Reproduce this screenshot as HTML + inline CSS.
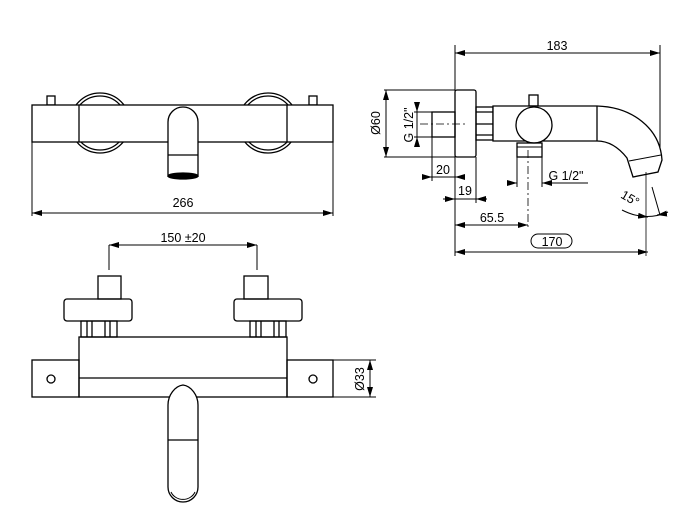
<!DOCTYPE html>
<html><head><meta charset="utf-8"><style>
html,body{margin:0;padding:0;background:#fff;}
svg{display:block;}
text{font-family:"Liberation Sans","DejaVu Sans",sans-serif;font-size:12.5px;fill:#000;}
</style></head><body>
<svg width="685" height="521" viewBox="0 0 685 521" xmlns="http://www.w3.org/2000/svg">
<defs>
<marker id="a" viewBox="0 0 10 6" refX="10" refY="3" markerWidth="10" markerHeight="6" orient="auto-start-reverse" markerUnits="userSpaceOnUse"><path d="M0,0 L10,3 L0,6z" fill="#000"/></marker>
</defs>
<g fill="none" stroke="#000" stroke-width="1.3">
<circle cx="100" cy="123" r="30"/><circle cx="100" cy="123" r="27"/>
<circle cx="268" cy="123" r="30"/><circle cx="268" cy="123" r="27"/>
<rect x="47" y="96" width="8" height="9" fill="#fff"/>
<rect x="309" y="96" width="8" height="9" fill="#fff"/>
<rect x="32" y="105" width="301" height="37" fill="#fff"/>
<line x1="79" y1="105" x2="79" y2="142"/><line x1="287" y1="105" x2="287" y2="142"/>
<path d="M168,177 L168,122 A15,15 0 0 1 198,122 L198,177" fill="#fff"/>
<line x1="168" y1="155" x2="198" y2="155"/>
<ellipse cx="183" cy="176" rx="15" ry="3" fill="#000"/>
<line x1="32" y1="142" x2="32" y2="216" stroke-width="1"/>
<line x1="333" y1="142" x2="333" y2="216" stroke-width="1"/>
<line x1="32" y1="213" x2="333" y2="213" stroke-width="1" marker-start="url(#a)" marker-end="url(#a)"/>

<line x1="455" y1="45" x2="455" y2="256" stroke-width="1"/>
<line x1="660" y1="45" x2="660" y2="165" stroke-width="1"/>
<line x1="455" y1="53" x2="660" y2="53" stroke-width="1" marker-start="url(#a)" marker-end="url(#a)"/>
<rect x="455" y="90" width="21" height="67" rx="2"/>
<line x1="384" y1="90" x2="455" y2="90" stroke-width="1"/>
<line x1="384" y1="157" x2="455" y2="157" stroke-width="1"/>
<line x1="386" y1="90" x2="386" y2="157" stroke-width="1" marker-start="url(#a)" marker-end="url(#a)"/>
<rect x="432" y="112" width="23" height="25"/>
<line x1="414" y1="112" x2="432" y2="112" stroke-width="1"/>
<line x1="414" y1="137" x2="432" y2="137" stroke-width="1"/>
<line x1="417" y1="102" x2="417" y2="112" stroke-width="1" marker-end="url(#a)"/>
<line x1="417" y1="147" x2="417" y2="137" stroke-width="1" marker-end="url(#a)"/>
<line x1="417" y1="112" x2="417" y2="137" stroke-width="1"/>
<line x1="420" y1="124" x2="468" y2="124" stroke-width="0.8" stroke-dasharray="8,3,2,3"/>
<rect x="476" y="107" width="17" height="33"/>
<line x1="476" y1="112" x2="493" y2="112"/><line x1="476" y1="124" x2="493" y2="124"/><line x1="476" y1="135" x2="493" y2="135"/>
<path d="M493,106 L597,106 C632,107 660,128 662,160 L658,172 L633,177 L627,158 C620,149 610,141 597,141 L493,141 Z" fill="#fff"/>
<line x1="597" y1="106" x2="597" y2="141"/>
<line x1="629" y1="161" x2="661" y2="155" stroke-width="1"/>
<rect x="529" y="95" width="9" height="11"/>
<circle cx="534" cy="125" r="18" fill="#fff"/>
<rect x="517" y="143" width="25" height="14"/>
<line x1="517" y1="147" x2="542" y2="147" stroke-width="1"/>
<line x1="517" y1="157" x2="517" y2="187" stroke-width="1"/>
<line x1="542" y1="157" x2="542" y2="187" stroke-width="1"/>
<line x1="528" y1="150" x2="528" y2="228" stroke-width="0.8" stroke-dasharray="8,3,2,3"/>
<line x1="476" y1="157" x2="476" y2="203" stroke-width="1"/>
<line x1="432" y1="137" x2="432" y2="181" stroke-width="1"/>
<line x1="422" y1="177" x2="432" y2="177" stroke-width="1" marker-end="url(#a)"/>
<line x1="465" y1="177" x2="455" y2="177" stroke-width="1" marker-end="url(#a)"/>
<line x1="432" y1="177" x2="455" y2="177" stroke-width="1"/>
<line x1="507" y1="183" x2="517" y2="183" stroke-width="1" marker-end="url(#a)"/>
<line x1="588" y1="183" x2="542" y2="183" stroke-width="1" marker-end="url(#a)"/>
<line x1="443" y1="199" x2="455" y2="199" stroke-width="1" marker-end="url(#a)"/>
<line x1="487" y1="199" x2="476" y2="199" stroke-width="1" marker-end="url(#a)"/>
<line x1="455" y1="199" x2="476" y2="199" stroke-width="1"/>
<line x1="455" y1="225" x2="528" y2="225" stroke-width="1" marker-start="url(#a)" marker-end="url(#a)"/>
<line x1="455" y1="252" x2="648" y2="252" stroke-width="1" marker-start="url(#a)" marker-end="url(#a)"/>
<line x1="646" y1="172" x2="646" y2="256" stroke-width="0.8"/>
<line x1="652" y1="187" x2="660" y2="215" stroke-width="1"/>
<path d="M622,210 Q645,222 668,212" stroke-width="1"/>
<path d="M640,216 L648,217" stroke-width="1" marker-end="url(#a)"/>
<path d="M664,214 L657,215" stroke-width="1" marker-end="url(#a)"/>
<rect x="531" y="234" width="41" height="14" rx="7" stroke-width="1"/>

<line x1="109" y1="245" x2="257" y2="245" stroke-width="1" marker-start="url(#a)" marker-end="url(#a)"/>
<line x1="109" y1="245" x2="109" y2="270" stroke-width="1"/>
<line x1="257" y1="245" x2="257" y2="270" stroke-width="1"/>
<rect x="98" y="276" width="23" height="23"/>
<rect x="64" y="299" width="68" height="22" rx="3"/>
<rect x="81" y="321" width="36" height="16"/>
<line x1="87" y1="321" x2="87" y2="337"/><line x1="92" y1="321" x2="92" y2="337"/><line x1="105" y1="321" x2="105" y2="337"/><line x1="110" y1="321" x2="110" y2="337"/>
<rect x="244" y="276" width="24" height="23"/>
<rect x="234" y="299" width="68" height="22" rx="3"/>
<rect x="250" y="321" width="36" height="16"/>
<line x1="256" y1="321" x2="256" y2="337"/><line x1="261" y1="321" x2="261" y2="337"/><line x1="274" y1="321" x2="274" y2="337"/><line x1="279" y1="321" x2="279" y2="337"/>
<rect x="79" y="337" width="208" height="60"/>
<line x1="79" y1="378" x2="287" y2="378"/>
<rect x="32" y="360" width="47" height="37"/>
<rect x="287" y="360" width="46" height="37"/>
<circle cx="51" cy="379" r="4"/><circle cx="313" cy="379" r="4"/>
<line x1="333" y1="360" x2="376" y2="360" stroke-width="1"/>
<line x1="333" y1="397" x2="376" y2="397" stroke-width="1"/>
<line x1="370" y1="360" x2="370" y2="397" stroke-width="1" marker-start="url(#a)" marker-end="url(#a)"/>
<path d="M168,487 L168,405 C168,395 175,386 183,385 C191,386 198,395 198,405 L198,487 A15,15 0 0 1 168,487 Z" fill="#fff"/>
<line x1="168" y1="440" x2="198" y2="440"/>
<path d="M171,492 A13,12 0 0 0 195,492" stroke-width="1"/>
</g>
<g>
<text x="183" y="207" text-anchor="middle">266</text>
<text x="557" y="50" text-anchor="middle">183</text>
<text transform="translate(380,123) rotate(-90)" text-anchor="middle">Ø60</text>
<text transform="translate(413,125) rotate(-90)" text-anchor="middle" font-size="11.5">G 1/2"</text>
<text x="443" y="174" text-anchor="middle">20</text>
<text x="566" y="180" text-anchor="middle">G 1/2"</text>
<text x="465" y="195" text-anchor="middle">19</text>
<text x="492" y="222" text-anchor="middle">65.5</text>
<text x="552" y="246" text-anchor="middle">170</text>
<text transform="translate(628,202) rotate(30)" text-anchor="middle" font-size="11">15°</text>
<text x="183" y="242" text-anchor="middle">150 ±20</text>
<text transform="translate(364,379) rotate(-90)" text-anchor="middle">Ø33</text>
</g>
</svg>
</body></html>
